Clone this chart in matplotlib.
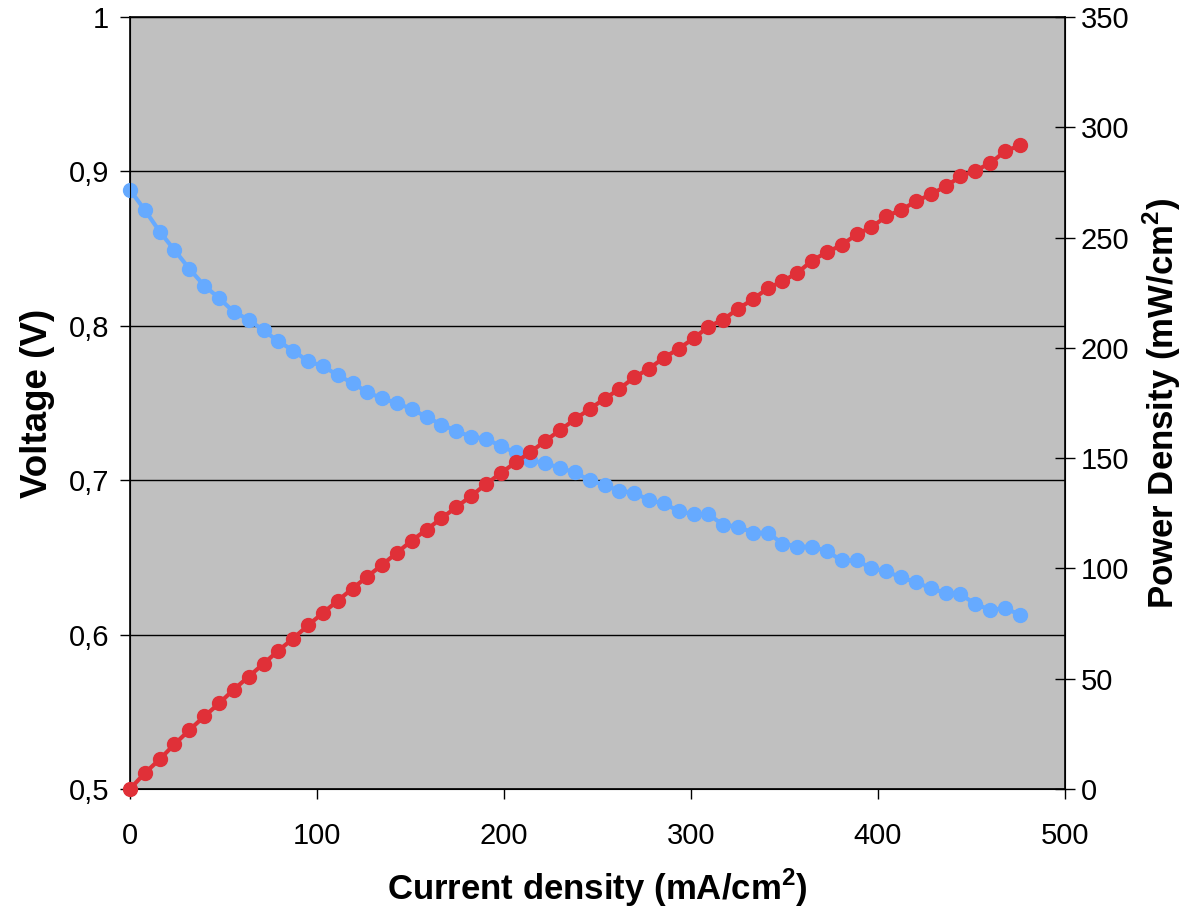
import matplotlib
matplotlib.use("Agg")
import matplotlib.pyplot as plt
from matplotlib.ticker import FuncFormatter

plt.rcParams["font.family"] = ["Liberation Sans", "DejaVu Sans"]
plt.rcParams["mathtext.fontset"] = "custom"
plt.rcParams["mathtext.rm"] = "Liberation Sans"
plt.rcParams["mathtext.bf"] = "Liberation Sans:bold"

# current density (mA/cm2)
current = [0.0, 7.9, 15.9, 23.8, 31.7, 39.7, 47.6, 55.5, 63.4, 71.4,
           79.3, 87.2, 95.2, 103.1, 111.0, 119.0, 126.9, 134.8, 142.7, 150.7,
           158.6, 166.5, 174.5, 182.4, 190.3, 198.3, 206.2, 214.1, 222.0, 230.0,
           237.9, 245.8, 253.8, 261.7, 269.6, 277.6, 285.5, 293.4, 301.4, 309.3,
           317.2, 325.1, 333.1, 341.0, 348.9, 356.9, 364.8, 372.7, 380.6, 388.6,
           396.5, 404.4, 412.4, 420.3, 428.2, 436.2, 444.1, 452.0, 459.9, 467.9,
           475.8]

# cell voltage (V)
voltage = [0.888, 0.875, 0.861, 0.849, 0.837, 0.826, 0.818, 0.809, 0.804, 0.797,
           0.790, 0.784, 0.777, 0.774, 0.768, 0.763, 0.757, 0.753, 0.750, 0.746,
           0.741, 0.736, 0.732, 0.728, 0.727, 0.722, 0.718, 0.713, 0.711, 0.708,
           0.705, 0.700, 0.697, 0.693, 0.692, 0.687, 0.685, 0.680, 0.678, 0.678,
           0.671, 0.670, 0.666, 0.666, 0.659, 0.657, 0.657, 0.654, 0.648, 0.648,
           0.643, 0.641, 0.637, 0.634, 0.630, 0.627, 0.626, 0.620, 0.616, 0.617,
           0.613]

# power density (mW/cm2)
power = [0.0, 7.2, 13.5, 20.3, 26.7, 32.9, 38.8, 45.1, 50.9, 56.8,
         62.7, 68.2, 74.2, 79.8, 85.3, 90.9, 96.3, 101.6, 107.1, 112.6,
         117.6, 122.7, 127.8, 132.8, 138.2, 143.2, 148.1, 152.7, 157.8, 162.7,
         167.6, 172.3, 176.9, 181.4, 186.6, 190.6, 195.5, 199.6, 204.3, 209.6,
         212.8, 217.7, 222.0, 227.0, 230.2, 234.0, 239.6, 243.4, 246.6, 251.5,
         254.7, 259.6, 262.6, 266.4, 269.6, 273.2, 277.7, 280.4, 283.6, 289.1,
         291.8]

fig = plt.figure(figsize=(11.98, 9.18), dpi=100)
ax = fig.add_axes([0.1085, 0.1405, 0.7805, 0.841])
ax.set_facecolor("#C0C0C0")

ax.plot(current, voltage, color="#66AAFF", lw=3, marker="o", ms=10,
        clip_on=False, zorder=3)
ax.set_xlim(0, 500)
ax.set_ylim(0.5, 1.0)
ax.set_xticks([0, 100, 200, 300, 400, 500])
ax.set_yticks([0.5, 0.6, 0.7, 0.8, 0.9, 1.0])
ax.yaxis.set_major_formatter(FuncFormatter(
    lambda v, p: "1" if abs(v - 1) < 1e-9 else f"{v:.1f}".replace(".", ",")))
ax.yaxis.grid(True, color="black", lw=1)
ax.set_axisbelow(True)
ax.tick_params(axis="y", direction="out", length=7, width=1, labelsize=21, pad=8)
ax.tick_params(axis="x", direction="out", length=7, width=1, labelsize=21, pad=17)
for s in ["left", "bottom", "right", "top"]:
    ax.spines[s].set_color("black")
    ax.spines[s].set_linewidth(1.2)
ax.set_xlabel(r"Current density (mA/cm$^\mathbf{2}$)", fontsize=25,
              fontweight="bold", labelpad=12)
ax.set_ylabel("Voltage (V)", fontsize=26.5, fontweight="bold", labelpad=10)

ax2 = ax.twinx()
ax2.plot(current, power, color="#E03038", lw=3, marker="o", ms=10,
         clip_on=False, zorder=3)
ax2.set_ylim(0, 350)
ax2.set_yticks(range(0, 351, 50))
ax2.tick_params(axis="y", direction="inout", length=15, width=1, labelsize=21, pad=4)
ax2.set_ylabel(r"Power Density (mW/cm$^\mathbf{2}$)", fontsize=25,
               fontweight="bold", labelpad=8)

fig.savefig("out.png", dpi=100)
